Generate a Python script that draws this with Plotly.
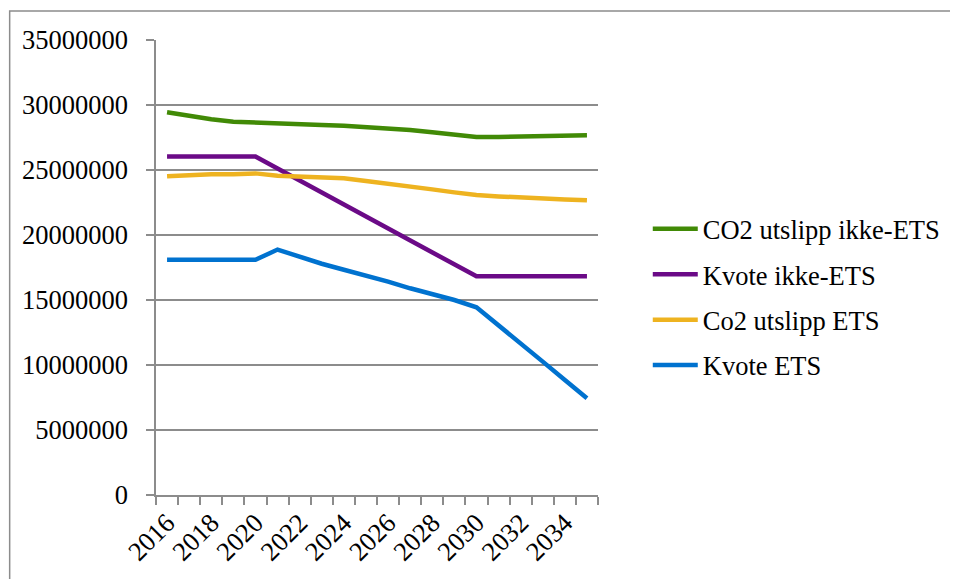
import plotly.graph_objects as go

years = list(range(2016, 2036))
tick_years = list(range(2016, 2036, 2))

co2_ikke_ets = [29440000, 29130000, 28900000, 28720000, 28640000, 28620000, 28540000, 28460000, 28410000, 28310000,
                28170000, 28080000, 27900000, 27720000, 27540000, 27540000, 27590000, 27620000, 27640000, 27670000]
kvote_ikke_ets = [26030000, 26030000, 26030000, 26030000, 26030000, 25110000, 24190000, 23270000, 22350000, 21430000,
                  20510000, 19590000, 18670000, 17750000, 16820000, 16820000, 16820000, 16820000, 16820000, 16820000]
co2_ets = [24510000, 24620000, 24670000, 24670000, 24740000, 24560000, 24490000, 24420000, 24360000, 24150000,
           23940000, 23790000, 23510000, 23280000, 23080000, 22970000, 22920000, 22820000, 22740000, 22670000]
kvote_ets = [18090000, 18090000, 18090000, 18090000, 18090000, 18880000, 18330000, 17790000, 17330000, 16900000,
             16410000, 15900000, 15460000, 15000000, 14440000, 13080000, 11670000, 10260000, 8850000, 7440000]

series = [
    ("CO2 utslipp ikke-ETS", co2_ikke_ets, "#418A06"),
    ("Kvote ikke-ETS", kvote_ikke_ets, "#6B0A87"),
    ("Co2 utslipp ETS", co2_ets, "#EEB320"),
    ("Kvote ETS", kvote_ets, "#0072CF"),
]

fig = go.Figure()
for i, (name, vals, col) in enumerate(series):
    fig.add_trace(go.Scatter(x=years, y=vals, name=name, mode="lines",
                             line=dict(color=col, width=4.5), legendgroup=str(i)))

font = dict(family="Times New Roman", size=26.5, color="black")
grid = "#8C8C8C"

# page has an 8px body margin: figure placed at (8, 8)
L, T, W, H = 148, 32, 950, 571
PW, PH = 444, 455

fig.update_layout(
    width=W, height=H,
    margin=dict(l=L, r=W - L - PW, t=T, b=H - T - PH),
    paper_bgcolor="white", plot_bgcolor="white",
    font=font,
    showlegend=True,
    legend=dict(x=(650 - 8 - L) / PW, y=(T + PH - (205 - 8)) / PH, xanchor="left",
                yanchor="top", font=font, tracegroupgap=8, traceorder="grouped",
                itemwidth=45, bgcolor="rgba(0,0,0,0)"),
    xaxis=dict(range=[2015.5, 2035.5], tickvals=tick_years, ticktext=[str(y) for y in tick_years],
               tickangle=-45, ticks="", showgrid=False, showline=True, linecolor=grid, linewidth=1.5,
               zeroline=False, automargin=False,
               tickfont=dict(family="Times New Roman", size=26.5, color="black"),
               minor=dict(tick0=2015.5, dtick=1, ticks="outside", ticklen=8, tickcolor=grid,
                          tickwidth=1.5, showgrid=False)),
    yaxis=dict(range=[0, 35000000], dtick=5000000, tickformat="d", showgrid=True, gridcolor=grid,
               gridwidth=1.5, showline=True, linecolor=grid, linewidth=1.5, ticks="outside",
               ticklen=8, tickcolor=grid, tickwidth=1.5, zeroline=False, automargin=False,
               tickfont=dict(family="Times New Roman", size=26.5, color="black"),
               ticklabelstandoff=13),
    shapes=[dict(type="rect", xref="paper", yref="paper",
                 x0=(1 - L) / PW, x1=(W + 10 - L) / PW,
                 y0=(T + PH - (H + 10)) / PH, y1=(T + PH - 3) / PH,
                 line=dict(color=grid, width=1.5), fillcolor="rgba(0,0,0,0)", layer="below")],
)

fig.write_html("out.html")
